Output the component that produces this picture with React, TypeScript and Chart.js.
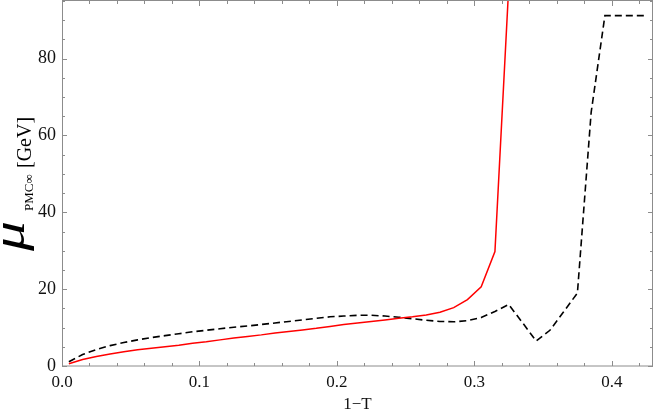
import React, { useEffect, useRef } from 'react';
import { Chart, registerables } from 'chart.js';
Chart.register(...registerables);

const redX = [0.005, 0.015, 0.025, 0.035, 0.045, 0.055, 0.065, 0.075, 0.085, 0.095, 0.105, 0.115, 0.125, 0.135, 0.145, 0.155, 0.165, 0.175, 0.185, 0.195, 0.205, 0.215, 0.225, 0.235, 0.245, 0.255, 0.265, 0.275, 0.285, 0.295, 0.305, 0.315, 0.325];
const redY = [0.6, 1.7, 2.5, 3.1, 3.7, 4.2, 4.6, 5.0, 5.4, 5.9, 6.3, 6.8, 7.3, 7.7, 8.1, 8.6, 9.0, 9.4, 9.8, 10.3, 10.8, 11.2, 11.6, 12.0, 12.4, 12.8, 13.3, 14.0, 15.2, 17.3, 20.6, 29.8, 98.5];

const blackX = [0.005, 0.015, 0.025, 0.035, 0.045, 0.055, 0.065, 0.075, 0.085, 0.095, 0.105, 0.115, 0.125, 0.135, 0.145, 0.155, 0.165, 0.175, 0.185, 0.195, 0.205, 0.215, 0.225, 0.235, 0.245, 0.255, 0.265, 0.275, 0.285, 0.295, 0.305, 0.315, 0.325, 0.335, 0.345, 0.355, 0.365, 0.375, 0.385, 0.395, 0.405, 0.415, 0.425];
const blackY = [1.1, 3.0, 4.3, 5.3, 6.1, 6.8, 7.4, 7.9, 8.4, 8.9, 9.3, 9.7, 10.1, 10.4, 10.8, 11.2, 11.6, 12.0, 12.4, 12.8, 13.0, 13.2, 13.2, 13.0, 12.7, 12.3, 11.9, 11.6, 11.5, 11.8, 12.6, 14.2, 16.0, 11.3, 6.5, 9.3, 14.1, 19.0, 66.0, 91.2, 91.2, 91.2, 91.2];

const xMin = 0;
const xMax = 0.43;
const yMin = 0;
const yMax = 95;
const xTickValues = [0, 0.1, 0.2, 0.3, 0.4];
const yTickValues = [0, 20, 40, 60, 80];
const xMajorStep = 0.1;
const xMinorStep = 0.02;
const yMajorStep = 20;
const yMinorStep = 5;
const xTitle = '1\u2212T';
const yTitleMain = '\u03bc';
const yTitleSub = 'PMC\u221e';
const yTitleUnit = '[GeV]';

const SERIF = '"Liberation Serif", "Times New Roman", serif';

const isMultiple = (v: number, step: number) => Math.abs(v / step - Math.round(v / step)) < 1e-6;

const framePlugin = {
  id: 'frameTicks',
  afterDraw(chart: any) {
    const { ctx, chartArea } = chart;
    const xs = chart.scales.x;
    const ys = chart.scales.y;
    const { left, right, top, bottom } = chartArea;
    ctx.save();
    ctx.strokeStyle = '#8c8c8c';
    ctx.lineWidth = 1;
    ctx.strokeRect(left + 0.5, top - 0.5, right - left - 1, bottom - top + 0.5);
    ctx.beginPath();
    const nx = Math.round((xMax - xMin) / xMinorStep);
    for (let i = 0; i <= nx; i++) {
      const v = xMin + i * xMinorStep;
      if (v > xMax + 1e-9) break;
      const len = isMultiple(v, xMajorStep) ? 5 : 3;
      const px = Math.round(xs.getPixelForValue(v)) + 0.5;
      ctx.moveTo(px, bottom);
      ctx.lineTo(px, bottom - len);
      ctx.moveTo(px, top);
      ctx.lineTo(px, top + len);
    }
    const ny = Math.round((yMax - yMin) / yMinorStep);
    for (let i = 0; i <= ny; i++) {
      const v = yMin + i * yMinorStep;
      const len = isMultiple(v, yMajorStep) ? 5 : 3;
      const py = Math.round(ys.getPixelForValue(v)) + 0.5;
      ctx.moveTo(left, py);
      ctx.lineTo(left + len, py);
      ctx.moveTo(right, py);
      ctx.lineTo(right - len, py);
    }
    ctx.stroke();

    // y axis title, rotated
    ctx.fillStyle = '#000';
    ctx.rotate(-Math.PI / 2);
    ctx.textAlign = 'left';
    ctx.textBaseline = 'alphabetic';
    ctx.save();
    ctx.translate(-251, 24);
    ctx.scale(1.3, 1);
    ctx.font = 'italic 46px ' + SERIF;
    ctx.fillText(yTitleMain, 0, 0);
    ctx.restore();
    ctx.font = '13px ' + SERIF;
    ctx.fillText(yTitleSub, -211, 33);
    ctx.font = '20px ' + SERIF;
    ctx.fillText(yTitleUnit, -168, 31);
    ctx.restore();
  },
};

export default function App() {
  const ref = useRef<HTMLCanvasElement | null>(null);
  useEffect(() => {
    document.body.style.margin = '0';
    const canvas = ref.current;
    if (!canvas) return;
    const chart = new Chart(canvas, {
      type: 'line',
      data: {
        datasets: [
          {
            data: redX.map((x, i) => ({ x, y: redY[i] })),
            borderColor: '#ff0000',
            borderWidth: 1.5,
            pointRadius: 0,
            tension: 0,
            fill: false,
            clip: 0,
          },
          {
            data: blackX.map((x, i) => ({ x, y: blackY[i] })),
            borderColor: '#000000',
            borderWidth: 1.6,
            borderDash: [7, 4],
            pointRadius: 0,
            tension: 0,
            fill: false,
            clip: 0,
          },
        ],
      },
      options: {
        animation: false,
        responsive: false,
        devicePixelRatio: 1,
        layout: { padding: { top: 1, right: 1, left: 0, bottom: 0 } },
        plugins: { legend: { display: false }, tooltip: { enabled: false } },
        scales: {
          x: {
            type: 'linear',
            min: xMin,
            max: xMax,
            grid: { display: false, drawTicks: false, tickLength: 0 },
            border: { display: false },
            ticks: {
              stepSize: xMajorStep,
              includeBounds: false,
              padding: 6,
              color: '#111',
              font: { family: SERIF, size: 17 },
              callback: (v: any) => Number(v).toFixed(1),
              maxRotation: 0,
              autoSkip: false,
            },
            afterBuildTicks: (scale: any) => {
              scale.ticks = xTickValues.map((v) => ({ value: v }));
            },
            afterFit: (scale: any) => {
              scale.height = 50;
              scale.paddingLeft = 0;
              scale.paddingRight = 0;
            },
            title: {
              display: true,
              text: xTitle,
              color: '#111',
              font: { family: SERIF, size: 17 },
              padding: { top: 0, bottom: 1 },
            },
          },
          y: {
            type: 'linear',
            min: yMin,
            max: yMax,
            grid: { display: false, drawTicks: false, tickLength: 0 },
            border: { display: false },
            ticks: {
              stepSize: yMajorStep,
              includeBounds: false,
              padding: 6,
              color: '#111',
              font: { family: SERIF, size: 18 },
              callback: (v: any) => String(Math.round(Number(v))),
              autoSkip: false,
            },
            afterBuildTicks: (scale: any) => {
              scale.ticks = yTickValues.map((v) => ({ value: v }));
            },
            afterFit: (scale: any) => {
              scale.width = 62;
              scale.paddingTop = 0;
              scale.paddingBottom = 0;
            },
          },
        },
      },
      plugins: [framePlugin],
    } as any);
    return () => chart.destroy();
  }, []);
  return (
    <div style={{ width: 654, height: 416 }}>
      <canvas ref={ref} width={654} height={416} style={{ width: 654, height: 416, display: 'block' }} />
    </div>
  );
}
